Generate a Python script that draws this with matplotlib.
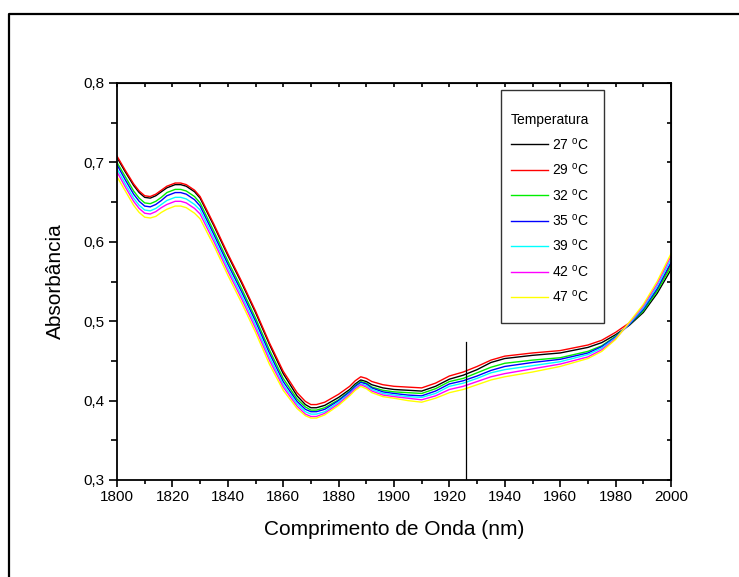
import numpy as np
import matplotlib
matplotlib.use('Agg')
import matplotlib.pyplot as plt
from matplotlib.ticker import MultipleLocator, FuncFormatter
from matplotlib.patches import Rectangle
from matplotlib.lines import Line2D

plt.rcParams['font.family'] = ['Liberation Sans', 'DejaVu Sans']
plt.rcParams['mathtext.fontset'] = 'custom'
plt.rcParams['mathtext.rm'] = 'Liberation Sans'

# wavelength (nm)
wl = [1800, 1803, 1806, 1808, 1810, 1812, 1814, 1816, 1818, 1821, 1823, 1825, 1828, 1830,
      1835, 1840, 1845, 1850, 1855, 1860, 1865, 1868, 1870, 1872, 1875, 1880, 1884, 1886,
      1888, 1890, 1892, 1896, 1900, 1905, 1910, 1915, 1920, 1925, 1930, 1935, 1940, 1950,
      1960, 1970, 1975, 1980, 1985, 1990, 1995, 2000]

a27 = [.706, .688, .671, .662, .656, .655, .658, .663, .668, .672, .672, .670, .663, .655,
       .620, .583, .548, .511, .471, .434, .406, .395, .391, .391, .394, .404, .414, .421,
       .426, .424, .420, .416, .414, .413, .412, .418, .427, .432, .439, .448, .453, .457,
       .460, .467, .473, .483, .495, .511, .535, .565]
a29 = [.708, .690, .673, .664, .658, .657, .660, .665, .670, .674, .674, .672, .665, .657,
       .622, .585, .550, .513, .473, .437, .410, .399, .395, .395, .398, .408, .418, .425,
       .430, .428, .424, .420, .418, .417, .416, .422, .431, .436, .443, .451, .456, .460,
       .463, .470, .476, .486, .498, .515, .540, .572]
a32 = [.700, .682, .664, .655, .649, .648, .651, .656, .662, .666, .666, .664, .657, .649,
       .613, .576, .541, .504, .464, .428, .402, .392, .388, .388, .391, .401, .412, .419,
       .424, .422, .417, .413, .411, .410, .409, .415, .424, .428, .435, .442, .447, .451,
       .454, .462, .469, .481, .496, .513, .538, .569]
a35 = [.697, .678, .660, .651, .645, .644, .647, .652, .658, .662, .662, .660, .653, .645,
       .609, .572, .537, .500, .460, .424, .399, .389, .386, .386, .389, .400, .411, .418,
       .423, .421, .416, .411, .409, .407, .406, .412, .421, .425, .431, .438, .443, .448,
       .452, .460, .468, .480, .496, .515, .541, .574]
a39 = [.692, .673, .655, .646, .640, .639, .642, .647, .652, .656, .656, .654, .647, .640,
       .604, .567, .532, .495, .455, .420, .396, .386, .383, .383, .386, .398, .409, .416,
       .421, .419, .414, .409, .407, .405, .404, .409, .418, .422, .428, .435, .439, .444,
       .449, .458, .466, .479, .497, .517, .544, .578]
a42 = [.688, .669, .651, .642, .636, .635, .638, .643, .647, .651, .651, .649, .642, .635,
       .600, .563, .528, .491, .451, .417, .393, .383, .380, .380, .384, .396, .408, .415,
       .420, .417, .412, .407, .405, .403, .401, .406, .414, .418, .424, .430, .434, .440,
       .446, .455, .464, .478, .498, .519, .547, .582]
a47 = [.682, .664, .646, .637, .631, .630, .632, .637, .641, .645, .645, .643, .636, .629,
       .595, .558, .523, .486, .446, .413, .390, .381, .378, .378, .382, .394, .406, .413,
       .418, .415, .410, .405, .403, .400, .398, .403, .410, .414, .420, .426, .430, .436,
       .443, .453, .462, .477, .499, .521, .550, .585]

temps = ['27', '29', '32', '35', '39', '42', '47']
series = [a27, a29, a32, a35, a39, a42, a47]
colors = ['#000000', '#ff0000', '#00ee00', '#0000ff', '#00ffff', '#ff00ff', '#ffff00']

marker_x = 1926
marker_top = 0.474

fig = plt.figure(figsize=(7.39, 5.77), dpi=100)
ax = fig.add_axes([117/739, 1 - 480/577, 554/739, 397/577])

for t, y, c in zip(temps, series, colors):
    ax.plot(wl, y, color=c, lw=1.0, solid_joinstyle='round',
            label=t + r' $^{\mathrm{o}}$C')

ax.plot([marker_x, marker_x], [0.3, marker_top], color='black', lw=0.9)

ax.set_xlim(1800, 2000)
ax.set_ylim(0.3, 0.8)
ax.xaxis.set_major_locator(MultipleLocator(20))
ax.xaxis.set_minor_locator(MultipleLocator(10))
ax.yaxis.set_major_locator(MultipleLocator(0.1))
ax.yaxis.set_minor_locator(MultipleLocator(0.05))
ax.yaxis.set_major_formatter(FuncFormatter(lambda v, p: ('%.1f' % v).replace('.', ',')))

for s in ax.spines.values():
    s.set_linewidth(1.3)
ax.tick_params(axis='x', which='major', direction='out', length=5, width=1.2, labelsize=11, pad=2)
ax.tick_params(axis='x', which='minor', direction='out', length=3, width=1.2)
ax.tick_params(axis='y', which='major', direction='out', length=6, width=1.2, labelsize=11, pad=3)
ax.tick_params(axis='y', which='minor', direction='out', length=4, width=1.2)

top = ax.secondary_xaxis('top')
top.xaxis.set_major_locator(MultipleLocator(10))
top.tick_params(direction='in', length=3, width=1.2, labeltop=False)
right = ax.secondary_yaxis('right')
right.yaxis.set_major_locator(MultipleLocator(0.05))
right.tick_params(direction='in', length=3, width=1.2, labelright=False)

ax.set_xlabel('Comprimento de Onda (nm)', fontsize=15, labelpad=12)
ax.set_ylabel('Absorbância', fontsize=15, labelpad=13)

# legend box
ax.add_patch(Rectangle((0.693, 0.395), 0.186, 0.587, transform=ax.transAxes,
                       fill=False, edgecolor='#333333', lw=1.0, zorder=5))
leg = ax.legend(loc='upper left', bbox_to_anchor=(0.711, 0.925), frameon=False,
                title='Temperatura', fontsize=10, title_fontsize=10,
                handlelength=2.7, handletextpad=0.25, labelspacing=0.68,
                borderpad=0, borderaxespad=0)
leg._legend_box.align = 'left'

# outer frame
fig.add_artist(Line2D([9/739, 9/739, 1.0], [0.0, 1 - 14/577, 1 - 14/577],
                      transform=fig.transFigure, color='black', lw=1.6))

fig.savefig('out.png', dpi=100)
